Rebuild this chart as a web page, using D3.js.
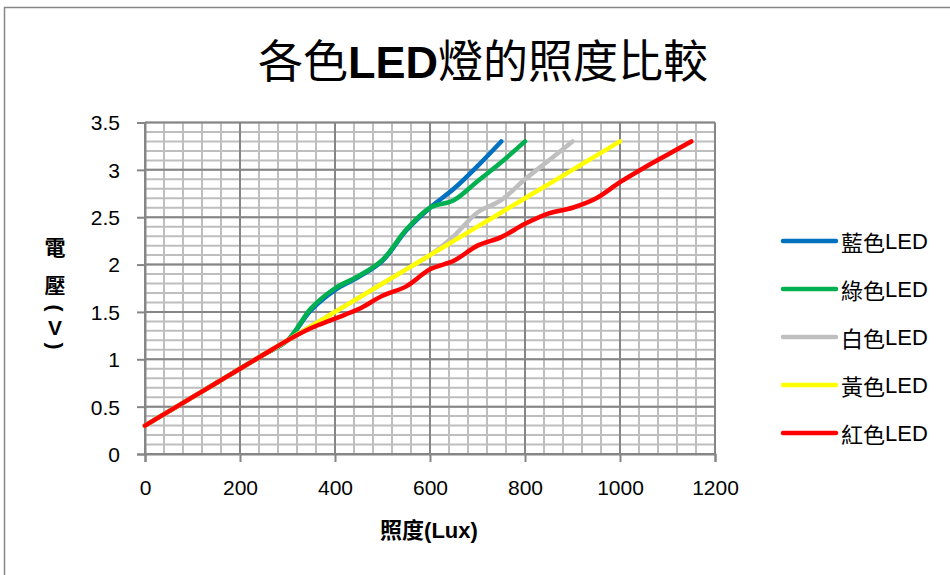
<!DOCTYPE html>
<html><head><meta charset="utf-8">
<script src="https://cdn.jsdelivr.net/npm/d3@7"></script>
<style>
html,body{margin:0;padding:0;background:#fff;}
svg{display:block;}
text{font-family:"Liberation Sans","Noto Sans CJK TC",sans-serif;fill:#000;}
</style></head><body>
<svg id="chart" width="950" height="575"></svg>
<script>
const title = "各色LED燈的照度比較";
const xTitle = "照度(Lux)";
const yTitleParts = ["電","壓","(","V",")"];
const lux = [0,50,100,150,200,250,300,350,400,450,500,550,600,650,700,750,800,850,900,950,1000,1050,1100,1150];
const seriesNames = ["藍色LED","綠色LED","白色LED","黃色LED","紅色LED"];
const seriesColors = ["#0070C0","#00B050","#BFBFBF","#FFFF00","#FF0000"];
const blueV   = [0.3,0.45,0.6,0.75,0.9,1.05,1.2,1.52,1.73,1.87,2.04,2.36,2.6,2.8,3.04,3.3];
const greenV  = [0.3,0.45,0.6,0.75,0.9,1.05,1.2,1.54,1.75,1.88,2.05,2.37,2.6,2.68,2.88,3.08,3.3];
const whiteV  = [0.3,0.45,0.6,0.75,0.9,1.05,1.2,1.35,1.5,1.65,1.8,1.95,2.1,2.3,2.55,2.68,2.9,3.1,3.3];
const yellowV = [0.3,0.45,0.6,0.75,0.9,1.05,1.2,1.35,1.5,1.65,1.8,1.95,2.1,2.25,2.4,2.55,2.7,2.85,3.0,3.15,3.3];
const redV    = [0.3,0.45,0.6,0.75,0.9,1.05,1.2,1.33,1.43,1.53,1.67,1.77,1.95,2.04,2.2,2.29,2.43,2.54,2.6,2.7,2.87,3.02,3.16,3.3];
const xTicks = [0,200,400,600,800,1000,1200];
const yTicks = [0,0.5,1,1.5,2,2.5,3,3.5];
const yTickLabels = ["0","0.5","1","1.5","2","2.5","3","3.5"];

const allSeries = [blueV, greenV, whiteV, yellowV, redV];
const svg = d3.select("#chart");

// chart frame
svg.append("rect").attr("x",4.5).attr("y",7.5).attr("width",1000).attr("height",1000)
  .attr("fill","none").attr("stroke","#868686").attr("stroke-width",1.5);

const x = d3.scaleLinear().domain([0,1200]).range([145,715]);
const y = d3.scaleLinear().domain([0,3.5]).range([454,122.5]);

const g = svg.append("g");
// minor grid
const minorX = d3.range(0,1201,40);
const minorY = d3.range(0,36,1).map(d=>d/10);
g.selectAll(".mx").data(minorX).join("line")
  .attr("x1",d=>x(d)).attr("x2",d=>x(d)).attr("y1",y(0)).attr("y2",y(3.5))
  .attr("stroke","#BEBEBE").attr("stroke-width",2);
g.selectAll(".my").data(minorY).join("line")
  .attr("x1",x(0)).attr("x2",x(1200)).attr("y1",d=>y(d)).attr("y2",d=>y(d))
  .attr("stroke","#BEBEBE").attr("stroke-width",2);
// major grid
g.selectAll(".Mx").data(xTicks).join("line")
  .attr("x1",d=>x(d)).attr("x2",d=>x(d)).attr("y1",y(0)).attr("y2",y(3.5))
  .attr("stroke","#868686").attr("stroke-width",2);
g.selectAll(".My").data(yTicks).join("line")
  .attr("x1",x(0)).attr("x2",x(1200)).attr("y1",d=>y(d)).attr("y2",d=>y(d))
  .attr("stroke","#868686").attr("stroke-width",2);

// axes
const xAxis = d3.axisBottom(x).tickValues(xTicks).tickSize(8).tickPadding(18).tickFormat(d3.format("d"));
const yAxis = d3.axisLeft(y).tickValues(yTicks).tickSize(8).tickPadding(17).tickFormat((d,i)=>yTickLabels[i]);
const gx = svg.append("g").attr("transform",`translate(0,${y(0)})`).call(xAxis);
const gy = svg.append("g").attr("transform",`translate(${x(0)},0)`).call(yAxis);
[gx,gy].forEach(a=>{
  a.select(".domain").attr("stroke","#868686").attr("stroke-width",2);
  a.selectAll(".tick line").attr("stroke","#868686").attr("stroke-width",2);
  a.selectAll(".tick text").attr("font-size",21).attr("font-family","Liberation Sans, sans-serif").attr("fill","#000");
});
gy.selectAll(".tick text").attr("dy","0.35em");

// lines
const line = d3.line().x(d=>x(d[0])).y(d=>y(d[1])).curve(d3.curveCatmullRom.alpha(0.5));
allSeries.forEach((vals,i)=>{
  const pts = vals.map((v,j)=>[lux[j],v]);
  svg.append("path").datum(pts).attr("d",line).attr("fill","none")
    .attr("stroke",seriesColors[i]).attr("stroke-width",4.5)
    .attr("stroke-linecap","round").attr("stroke-linejoin","round");
});

// title
svg.append("text").attr("x",483).attr("y",78).attr("text-anchor","middle")
  .attr("font-size",45).attr("font-family","Noto Sans CJK TC, sans-serif")
  .selectAll("tspan").data([["各色",400],["LED",700],["燈的照度比較",400]]).join("tspan")
  .attr("font-weight",d=>d[1]).attr("font-family",d=>d[0]==="LED"?"Liberation Sans, sans-serif":"Noto Sans CJK TC, sans-serif")
  .text(d=>d[0]);

// x title
svg.append("text").attr("x",429).attr("y",538).attr("text-anchor","middle")
  .attr("font-size",22).attr("font-weight",700).attr("font-family","Noto Sans CJK TC, sans-serif")
  .text(xTitle);

// y title stacked
const yPos = [247,285,308,327,346];
yTitleParts.forEach((c,i)=>{
  const t = svg.append("text").attr("text-anchor","middle").attr("dominant-baseline","central")
    .attr("font-size",21).attr("font-weight",700).attr("font-family","Noto Sans CJK TC, sans-serif")
    .text(c);
  if (c==="("||c===")") t.attr("transform",`translate(55,${yPos[i]}) rotate(90)`);
  else t.attr("x",55).attr("y",yPos[i]);
});

// legend
const lg = svg.append("g");
seriesNames.forEach((n,i)=>{
  const cy = 241 + i*48;
  lg.append("line").attr("x1",783).attr("x2",836).attr("y1",cy).attr("y2",cy)
    .attr("stroke",seriesColors[i]).attr("stroke-width",4.5).attr("stroke-linecap","round");
  const t = lg.append("text").attr("x",841).attr("y",cy).attr("dominant-baseline","central").attr("font-size",22);
  t.append("tspan").attr("font-family","Noto Sans CJK TC, sans-serif").text(n.slice(0,2));
  t.append("tspan").attr("font-family","Liberation Sans, sans-serif").text(n.slice(2));
});
</script>
</body></html>
